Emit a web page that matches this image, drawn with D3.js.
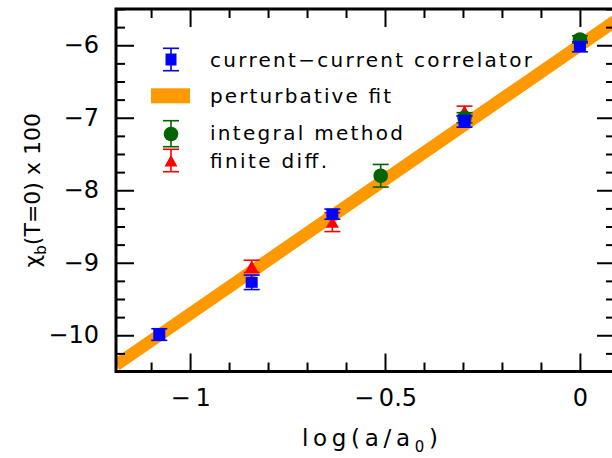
<!DOCTYPE html>
<html>
<head>
<meta charset="utf-8">
<script src="https://cdnjs.cloudflare.com/ajax/libs/d3/7.8.5/d3.min.js"></script>
<style>
  body {margin: 0; background: #fff;}
  svg {display: block; font-family: "DejaVu Sans", sans-serif;}
</style>
</head>
<body>
<div id="chart"></div>
<script>
// current-current correlator (blue squares)
var ccX = [-1.079, -0.842, -0.635, -0.296, 0];
var ccY = [-9.99, -9.27, -8.33, -7.05, -6.02];
var ccErr = [0.08, 0.10, 0.07, 0.08, 0.07];

// integral method (green circles)
var intX = [-0.511, -0.296, 0];
var intY = [-7.80, -7.00, -5.92];
var intErr = [0.156, 0.07, 0.05];

// finite diff. (red triangles)
var fdX = [-0.842, -0.635, -0.296];
var fdY = [-9.05, -8.44, -6.91];
var fdErr = [0.085, 0.13, 0.07];

// perturbative fit (orange band)
var fitX = [-1.19, 0.09];
var fitY = [-10.41, -5.666];

var xMajor = [-1, -0.5, 0];
var yMajor = [-10, -9, -8, -7, -6];
var legendLabels = ["current\u2212current correlator", "perturbative fit", "integral method", "finite diff."];

var width = 612, height = 458;
var pLeft = 116, pRight = 615, pTop = 9, pBottom = 371.5;

var svg = d3.select("#chart").append("svg")
  .attr("width", width)
  .attr("height", height);

var x = d3.scaleLinear().domain([-1.19, 0.09]).range([pLeft, pRight]);
var y = d3.scaleLinear().domain([-10.5, -5.5]).range([pBottom, pTop]);

var xMinor = d3.range(-11, 1).map(function(i) { return i / 10; }).filter(function(v) { return xMajor.indexOf(v) < 0; });
var yMinor = d3.range(-42, -21).map(function(i) { return i / 4; }).filter(function(v) { return v % 1 != 0; });

function minusLabel(gap) {
  return function(d) { return d < 0 ? "\u2212" + gap + Math.abs(d) : String(d); };
}

svg.append("clipPath").attr("id", "clip")
  .append("rect").attr("x", pLeft).attr("y", pTop)
  .attr("width", pRight - pLeft).attr("height", pBottom - pTop);

// fit band
var line = d3.line().x(function(d) { return x(d[0]); }).y(function(d) { return y(d[1]); });
svg.append("path")
  .datum(d3.zip(fitX, fitY))
  .attr("clip-path", "url(#clip)")
  .attr("d", line)
  .style("fill", "none")
  .style("stroke", "#ff9900")
  .style("stroke-width", 12.5);

// error bars + markers
function errorBars(xs, ys, es, color) {
  var g = svg.append("g").style("stroke", color).style("stroke-width", 1.6);
  xs.forEach(function(xv, i) {
    var cx = x(xv), y0 = y(ys[i] - es[i]), y1 = y(ys[i] + es[i]);
    g.append("line").attr("x1", cx).attr("x2", cx).attr("y1", y0).attr("y2", y1);
    g.append("line").attr("x1", cx - 8).attr("x2", cx + 8).attr("y1", y0).attr("y2", y0);
    g.append("line").attr("x1", cx - 8).attr("x2", cx + 8).attr("y1", y1).attr("y2", y1);
  });
}
function triangle(cx, cy) {
  return "M" + (cx - 6.5) + "," + (cy + 5.5) + "L" + (cx + 6.5) + "," + (cy + 5.5) + "L" + cx + "," + (cy - 6) + "Z";
}

errorBars(fdX, fdY, fdErr, "#ff0000");
fdX.forEach(function(xv, i) {
  svg.append("path").attr("d", triangle(x(xv), y(fdY[i]))).style("fill", "#ff0000");
});

errorBars(intX, intY, intErr, "#006400");
intX.forEach(function(xv, i) {
  svg.append("circle").attr("cx", x(xv)).attr("cy", y(intY[i])).attr("r", 7.3).style("fill", "#006400");
});

errorBars(ccX, ccY, ccErr, "#0000ff");
ccX.forEach(function(xv, i) {
  svg.append("rect").attr("x", x(xv) - 6).attr("y", y(ccY[i]) - 5.5)
    .attr("width", 12).attr("height", 11).style("fill", "#0000ff");
});

// axes: ticks on all four sides
function styleAxis(g) {
  g.select(".domain").remove();
  g.selectAll("line").style("stroke", "#000").style("stroke-width", 2);
  g.selectAll("text").style("font-family", "DejaVu Sans").style("font-size", "24px").style("fill", "#000");
}
svg.append("g").attr("transform", "translate(0," + pBottom + ")")
  .call(d3.axisBottom(x).tickValues(xMajor).tickSizeInner(-18).tickSizeOuter(0).tickPadding(17)
    .tickFormat(minusLabel("\u2009")))
  .call(styleAxis);
svg.append("g").attr("transform", "translate(0," + pBottom + ")")
  .call(d3.axisBottom(x).tickValues(xMinor).tickSizeInner(-9).tickSizeOuter(0).tickFormat(""))
  .call(styleAxis);
svg.append("g").attr("transform", "translate(0," + pTop + ")")
  .call(d3.axisTop(x).tickValues(xMajor).tickSizeInner(-18).tickSizeOuter(0).tickFormat(""))
  .call(styleAxis);
svg.append("g").attr("transform", "translate(0," + pTop + ")")
  .call(d3.axisTop(x).tickValues(xMinor).tickSizeInner(-9).tickSizeOuter(0).tickFormat(""))
  .call(styleAxis);
svg.append("g").attr("transform", "translate(" + pLeft + ",0)")
  .call(d3.axisLeft(y).tickValues(yMajor).tickSizeInner(-18).tickSizeOuter(0).tickPadding(17)
    .tickFormat(minusLabel("")))
  .call(styleAxis);
svg.append("g").attr("transform", "translate(" + pLeft + ",0)")
  .call(d3.axisLeft(y).tickValues(yMinor).tickSizeInner(-9).tickSizeOuter(0).tickFormat(""))
  .call(styleAxis);
svg.append("g").attr("transform", "translate(" + pRight + ",0)")
  .call(d3.axisRight(y).tickValues(yMajor).tickSizeInner(-18).tickSizeOuter(0).tickFormat(""))
  .call(styleAxis);
svg.append("g").attr("transform", "translate(" + pRight + ",0)")
  .call(d3.axisRight(y).tickValues(yMinor).tickSizeInner(-9).tickSizeOuter(0).tickFormat(""))
  .call(styleAxis);

// frame
svg.append("rect").attr("x", pLeft).attr("y", pTop)
  .attr("width", pRight - pLeft).attr("height", pBottom - pTop)
  .style("fill", "none").style("stroke", "#000").style("stroke-width", 3);

// axis titles
var xt = svg.append("text").attr("x", 302).attr("y", 446)
  .attr("textLength", 136).attr("lengthAdjust", "spacing")
  .style("font-size", "23px");
xt.append("tspan").text("log(a/a");
xt.append("tspan").attr("dy", 6).style("font-size", "15px").text("0");
xt.append("tspan").attr("dy", -6).text(")");

var yt = svg.append("text").attr("transform", "translate(40," + ((pTop + pBottom) / 2) + ") rotate(-90)")
  .attr("text-anchor", "middle").style("font-size", "22px");
yt.append("tspan").text("\u03c7");
yt.append("tspan").attr("dy", 6).style("font-size", "15px").text("b");
yt.append("tspan").attr("dy", -6).text("(T=0)  x  100");

// legend
var lg = svg.append("g");
function legErr(cx, cy, half, color) {
  var g = lg.append("g").style("stroke", color).style("stroke-width", 1.6);
  g.append("line").attr("x1", cx).attr("x2", cx).attr("y1", cy - half).attr("y2", cy + half);
  g.append("line").attr("x1", cx - 8).attr("x2", cx + 8).attr("y1", cy - half).attr("y2", cy - half);
  g.append("line").attr("x1", cx - 8).attr("x2", cx + 8).attr("y1", cy + half).attr("y2", cy + half);
}
legErr(171, 59.5, 11.2, "#0000ff");
lg.append("rect").attr("x", 165.5).attr("y", 53.5).attr("width", 11).attr("height", 12).style("fill", "#0000ff");
lg.append("rect").attr("x", 151).attr("y", 88.3).attr("width", 39).attr("height", 15).style("fill", "#ff9900");
legErr(171, 133.7, 13, "#006400");
lg.append("circle").attr("cx", 171).attr("cy", 134).attr("r", 7.3).style("fill", "#006400");
legErr(171, 160.5, 11.2, "#ff0000");
lg.append("path").attr("d", triangle(171, 161)).style("fill", "#ff0000");

var legY = [67.3, 103.3, 140, 168.3];
var legLen = [322, 181, 193, 117];
legendLabels.forEach(function(t, i) {
  lg.append("text").attr("x", 210).attr("y", legY[i])
    .attr("textLength", legLen[i]).attr("lengthAdjust", "spacing")
    .style("font-size", "20px").text(t);
});
</script>
</body>
</html>
